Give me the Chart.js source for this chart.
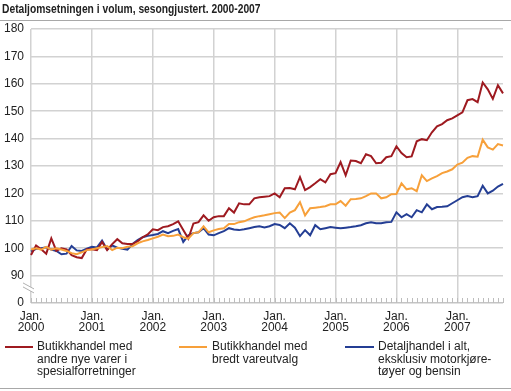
<!DOCTYPE html>
<html>
<head>
<meta charset="utf-8">
<script src="https://cdn.jsdelivr.net/npm/chart.js@4.4.1/dist/chart.umd.min.js"></script>
<style>
  body { margin: 0; background: #fff; font-family: "Liberation Sans", Arial, sans-serif; color: #222; }
  #wrap { position: relative; width: 511px; height: 391px; overflow: hidden; }
  #title { position: absolute; left: 2px; top: 1px; font-size: 13px; font-weight: bold; white-space: nowrap;
           transform: scaleX(0.79); transform-origin: 0 0; }
  .rule { position: absolute; left: 0; width: 511px; height: 1px; background: #a8a8a8; }
  canvas { position: absolute; left: 0; top: 0; }
  .leg { position: absolute; top: 340px; font-size: 12px; line-height: 12.5px; }
  .sw { position: absolute; height: 2px; top: 346px; }
</style>
</head>
<body>
<div id="wrap">
  <canvas id="detaljChart" width="511" height="391"></canvas>
  <div id="title">Detaljomsetningen i volum, sesongjustert. 2000-2007</div>
  <div class="rule" style="top:20px"></div>
  <div class="sw" style="left:5px;width:28px;background:#9e1a20"></div>
  <div class="leg" style="left:37px">Butikkhandel med<br>andre nye varer i<br>spesialforretninger</div>
  <div class="sw" style="left:179px;width:28px;background:#f7a03a"></div>
  <div class="leg" style="left:212px">Butikkhandel med<br>bredt vareutvalg</div>
  <div class="sw" style="left:345px;width:29px;background:#243e94"></div>
  <div class="leg" style="left:378px">Detaljhandel i alt,<br>eksklusiv motorkjøre-<br>tøyer og bensin</div>
  <div class="rule" style="top:388px"></div>
</div>
<script>
// Årstall for x-aksen (januar hvert år)
const years = ["2000", "2001", "2002", "2003", "2004", "2005", "2006", "2007"];
const monthCount = 94;  // jan. 2000 - okt. 2007

// Butikkhandel med andre nye varer i spesialforretninger
const spesial = [
  97.5, 101, 99.6, 98, 103.6, 99, 100, 99.6, 97.5, 96.7, 96.4, 99.6,
  99.6, 99.3, 102.3, 99.3, 101.5, 103.3, 101.8, 101.5, 101.5, 102.5, 104, 105,
  106.9, 106.6, 107.7, 108, 108.8, 109.8, 106.6, 103.5, 109, 109.5, 112, 110,
  111.3, 111.7, 111.7, 114.6, 113, 116.4, 116, 116, 118.2, 118.6, 118.8, 119,
  120, 118.6, 121.9, 122, 121.5, 125.9, 121.2, 122.3, 123.7, 125.2, 124, 127,
  127.4, 131.4, 126.6, 132, 131.8, 131, 134.3, 133.6, 131, 131.2, 133.2, 133.6,
  137.2, 134.7, 133.2, 133.5, 139, 139.8, 139.4, 142.3, 144.5, 145.3, 146.7, 147.4,
  148.5, 149.6, 154, 154.4, 153.3, 160.5, 158, 154.5, 159.5, 156.5
];

// Butikkhandel med bredt vareutvalg
const bredt = [
  99.5, 100, 99.5, 100.5, 99.5, 100, 99.5, 99, 98.2, 97.8, 98.5, 99.3,
  99.5, 100, 100.4, 100.8, 99.3, 100.2, 100, 100.5, 100.7, 101.8, 102.5, 103,
  103.6, 104.2, 105, 104.4, 104.5, 105, 104, 103.5, 105.5, 105.8, 108, 105.8,
  106.5, 107, 107.3, 108.8, 108.8, 109.5, 109.8, 110.6, 111.3, 111.7, 112, 112.4,
  112.8, 113, 111, 113, 113.9, 116.8, 112, 114.6, 114.8, 115, 115.3, 116,
  116, 117.2, 115.5, 117.9, 118, 118.2, 119, 120, 120, 118.2, 118.6, 119.7,
  119.8, 123.7, 121.5, 121.9, 120.8, 126.6, 124.5, 125.5, 126.3, 127.4, 128, 128.8,
  130.5, 131.2, 133, 133.6, 133.4, 139.6, 136.8, 136, 138, 137.5
];

// Detaljhandel i alt, eksklusiv motorkjøretøyer og bensin
const detaljIalt = [
  98.8, 99.8, 100, 100.3, 99.5, 99, 97.8, 98, 100.8, 99.2, 99, 99.8,
  100.5, 100.3, 102.8, 99.5, 101, 100.2, 99.8, 99.5, 101.5, 103, 104, 104.5,
  104.8, 105.2, 106.2, 105.5, 106.3, 107, 102.3, 104.7, 105.5, 105.8, 107.3, 105,
  104.7, 105.5, 106.2, 107.3, 106.8, 106.6, 106.9, 107.3, 107.7, 108, 107.6, 108,
  108.8, 108.5, 107.3, 109.1, 107.5, 104.4, 106.6, 104.7, 108.4, 106.9, 107.3, 107.7,
  107.5, 107.3, 107.5, 107.7, 108, 108.4, 109.1, 109.5, 109.1, 109.1, 109.5, 109.6,
  113.1, 111.3, 112.4, 111.3, 113.9, 113.1, 116, 114.2, 115, 115.1, 115.3, 116.4,
  117.5, 118.6, 119, 118.6, 119, 122.8, 120, 121, 122.5, 123.5
];

// Månedsetiketter (en per datapunkt)
const months = [];
for (let i = 0; i < monthCount; i++) {
  months.push(years[Math.floor(i / 12)] + "-" + String(i % 12 + 1).padStart(2, "0"));
}

const gridColor = "#d2d2d2";

// Tegner brudd i y-aksen og små månedsstreker på grunnlinjen
const axisBreak = {
  id: "axisBreak",
  afterDraw(chart) {
    const { ctx, chartArea, scales } = chart;
    const x = scales.x, y = scales.y;
    const base = y.getPixelForValue(80);
    ctx.save();
    ctx.strokeStyle = "#bdbdbd";
    ctx.lineWidth = 1;
    for (let i = 0; i < months.length; i++) {
      const px = Math.round(x.getPixelForValue(i)) + 0.5;
      ctx.beginPath();
      ctx.moveTo(px, base);
      ctx.lineTo(px, base - 5);
      ctx.stroke();
    }
    // bruddtegn
    const bx = chartArea.left - 2;
    const by = y.getPixelForValue(85.5);
    ctx.fillStyle = "#fff";
    ctx.beginPath();
    ctx.moveTo(bx - 6, by - 5);
    ctx.lineTo(bx + 5, by + 1);
    ctx.lineTo(bx + 5, by + 5);
    ctx.lineTo(bx - 6, by - 1);
    ctx.closePath();
    ctx.fill();
    ctx.strokeStyle = "#b0b0b0";
    ctx.beginPath();
    ctx.moveTo(bx - 6, by - 5);
    ctx.lineTo(bx + 5, by + 1);
    ctx.moveTo(bx - 6, by - 1);
    ctx.lineTo(bx + 5, by + 5);
    ctx.stroke();
    ctx.restore();
  }
};

const ctx = document.getElementById("detaljChart").getContext("2d");
new Chart(ctx, {
  type: "line",
  data: {
    labels: months,
    datasets: [
      { label: "Butikkhandel med andre nye varer i spesialforretninger", data: spesial,
        borderColor: "#9e1a20", order: 1 },
      { label: "Butikkhandel med bredt vareutvalg", data: bredt,
        borderColor: "#f7a03a", order: 0 },
      { label: "Detaljhandel i alt, eksklusiv motorkjøretøyer og bensin", data: detaljIalt,
        borderColor: "#243e94", order: 2 }
    ]
  },
  options: {
    responsive: false,
    animation: false,
    devicePixelRatio: 1,
    elements: {
      line: { borderWidth: 2, tension: 0, fill: false },
      point: { radius: 0 }
    },
    layout: { padding: { top: 29, left: 0, right: 3, bottom: 48 } },
    plugins: { legend: { display: false }, tooltip: { enabled: false } },
    scales: {
      x: {
        type: "category",
        offset: false,
        border: { display: false },
        grid: {
          drawTicks: false,
          lineWidth: 1.5,
          color: c => (c.index % 12 === 0 ? gridColor : "transparent")
        },
        ticks: {
          autoSkip: false,
          maxRotation: 0,
          padding: 8,
          color: "#222",
          font: { family: "'Liberation Sans', Arial, sans-serif", size: 12, lineHeight: 0.95 },
          callback: (v, i) => (i % 12 === 0 ? ["Jan.", years[i / 12]] : "")
        },
        afterFit: s => { s.height = 40; }
      },
      y: {
        min: 80,
        max: 180,
        border: { display: false },
        grid: {
          drawTicks: false,
          lineWidth: 1.5,
          color: c => (c.tick && c.tick.value === 80 ? "#c4c4c4" : gridColor)
        },
        ticks: {
          stepSize: 10,
          padding: 7,
          color: "#222",
          font: { family: "'Liberation Sans', Arial, sans-serif", size: 12 },
          callback: v => (v === 80 ? "0" : v)
        },
        afterFit: s => { s.width = 31; }
      }
    }
  },
  plugins: [axisBreak]
});
</script>
</body>
</html>
